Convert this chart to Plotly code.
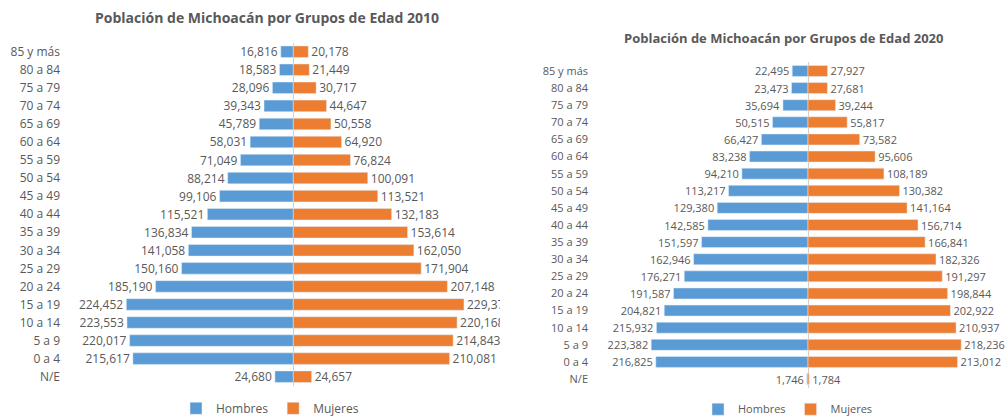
import plotly.graph_objects as go

categorias = ["85 y más", "80 a 84", "75 a 79", "70 a 74", "65 a 69", "60 a 64", "55 a 59",
              "50 a 54", "45 a 49", "40 a 44", "35 a 39", "30 a 34", "25 a 29", "20 a 24",
              "15 a 19", "10 a 14", "5 a 9", "0 a 4", "N/E"]

hombres_2010 = [16816, 18583, 28096, 39343, 45789, 58031, 71049, 88214, 99106, 115521,
                136834, 141058, 150160, 185190, 224452, 223553, 220017, 215617, 24680]
mujeres_2010 = [20178, 21449, 30717, 44647, 50558, 64920, 76824, 100091, 113521, 132183,
                153614, 162050, 171904, 207148, 229375, 220168, 214843, 210081, 24657]

hombres_2020 = [22495, 23473, 35694, 50515, 66427, 83238, 94210, 113217, 129380, 142585,
                151597, 162946, 176271, 191587, 204821, 215932, 223382, 216825, 1746]
mujeres_2020 = [27927, 27681, 39244, 55817, 73582, 95606, 108189, 130382, 141164, 156714,
                166841, 182326, 191297, 198844, 202922, 210937, 218236, 213012, 1784]

titulo_2010 = "Población de Michoacán por Grupos de Edad 2010"
titulo_2020 = "Población de Michoacán por Grupos de Edad 2020"

AZUL = "#5B9BD5"
NARANJA = "#ED7D31"
GRIS = "#595959"
FONT = "Open Sans"

W, H = 1008, 417


def fmt(vals):
    return [f"{v:,}" for v in vals]


fig = go.Figure()

# 2010 chart
fig.add_trace(go.Bar(
    y=categorias, x=[-v for v in hombres_2010], orientation="h", name="Hombres",
    marker=dict(color=AZUL), text=fmt(hombres_2010), textposition="outside",
    textfont=dict(color=GRIS, size=12, family=FONT), constraintext="none", cliponaxis=True,
    xaxis="x", yaxis="y", legend="legend", hoverinfo="skip"))
fig.add_trace(go.Bar(
    y=categorias, x=mujeres_2010, orientation="h", name="Mujeres",
    marker=dict(color=NARANJA), text=fmt(mujeres_2010), textposition="outside",
    textfont=dict(color=GRIS, size=12, family=FONT), constraintext="none", cliponaxis=True,
    xaxis="x", yaxis="y", legend="legend", hoverinfo="skip"))

# 2020 chart
fig.add_trace(go.Bar(
    y=categorias, x=[-v for v in hombres_2020], orientation="h", name="Hombres",
    marker=dict(color=AZUL), text=fmt(hombres_2020), textposition="outside",
    textfont=dict(color=GRIS, size=11, family=FONT), constraintext="none", cliponaxis=False,
    xaxis="x2", yaxis="y2", legend="legend2", hoverinfo="skip"))
fig.add_trace(go.Bar(
    y=categorias, x=mujeres_2020, orientation="h", name="Mujeres",
    marker=dict(color=NARANJA), text=fmt(mujeres_2020), textposition="outside",
    textfont=dict(color=GRIS, size=11, family=FONT), constraintext="none", cliponaxis=False,
    xaxis="x2", yaxis="y2", legend="legend2", hoverinfo="skip"))

# pixel geometry
s1, c1 = 0.000744, 293.3
x0_1, x1_1 = 61, 500
s2, c2 = 0.000702, 808
x0_2, x1_2 = 589, 1005

fig.update_layout(
    width=W, height=H,
    margin=dict(l=0, r=0, t=0, b=0, autoexpand=False),
    paper_bgcolor="white", plot_bgcolor="white",
    barmode="relative", bargap=0.36,
    font=dict(family=FONT, color=GRIS, size=12),
    xaxis=dict(domain=[x0_1 / W, x1_1 / W],
               range=[-(c1 - x0_1) / s1, (x1_1 - c1) / s1],
               showticklabels=False, showgrid=False, zeroline=True,
               zerolinecolor="#d0d0d0", zerolinewidth=1, automargin=False),
    yaxis=dict(domain=[1 - 385.7 / H, 1 - 42.7 / H], categoryorder="array",
               categoryarray=categorias[::-1], showgrid=False, ticks="", automargin=False,
               tickfont=dict(size=12, color=GRIS, family=FONT), anchor="x"),
    xaxis2=dict(domain=[x0_2 / W, x1_2 / W],
                range=[-(c2 - x0_2) / s2, (x1_2 - c2) / s2],
                showticklabels=False, showgrid=False, zeroline=True, automargin=False,
                zerolinecolor="#d0d0d0", zerolinewidth=1, anchor="y2"),
    yaxis2=dict(domain=[1 - 387.6 / H, 1 - 62.4 / H], categoryorder="array",
                categoryarray=categorias[::-1], showgrid=False, ticks="", automargin=False,
                tickfont=dict(size=11, color=GRIS, family=FONT), anchor="x2"),
    legend=dict(orientation="h", x=270 / W, y=-0.014, xanchor="center", yanchor="bottom",
                font=dict(size=12, color=GRIS, family=FONT), itemwidth=30,
                bgcolor="rgba(0,0,0,0)", borderwidth=0),
    legend2=dict(orientation="h", x=788 / W, y=-0.016, xanchor="center", yanchor="bottom",
                 font=dict(size=11, color=GRIS, family=FONT), itemwidth=30,
                 bgcolor="rgba(0,0,0,0)", borderwidth=0),
    annotations=[
        dict(text=f"<b>{titulo_2010}</b>", x=267 / W, y=1 - 18 / H, xref="paper", yref="paper",
             xanchor="center", yanchor="middle", showarrow=False,
             font=dict(size=14, color=GRIS, family=FONT)),
        dict(text=f"<b>{titulo_2020}</b>", x=783 / W, y=1 - 38 / H, xref="paper", yref="paper",
             xanchor="center", yanchor="middle", showarrow=False,
             font=dict(size=13, color=GRIS, family=FONT)),
    ],
)

fig.write_html(
    "out.html",
    config={"displayModeBar": False},
    post_script="document.body.style.margin='0';document.body.style.overflow='hidden';",
)
